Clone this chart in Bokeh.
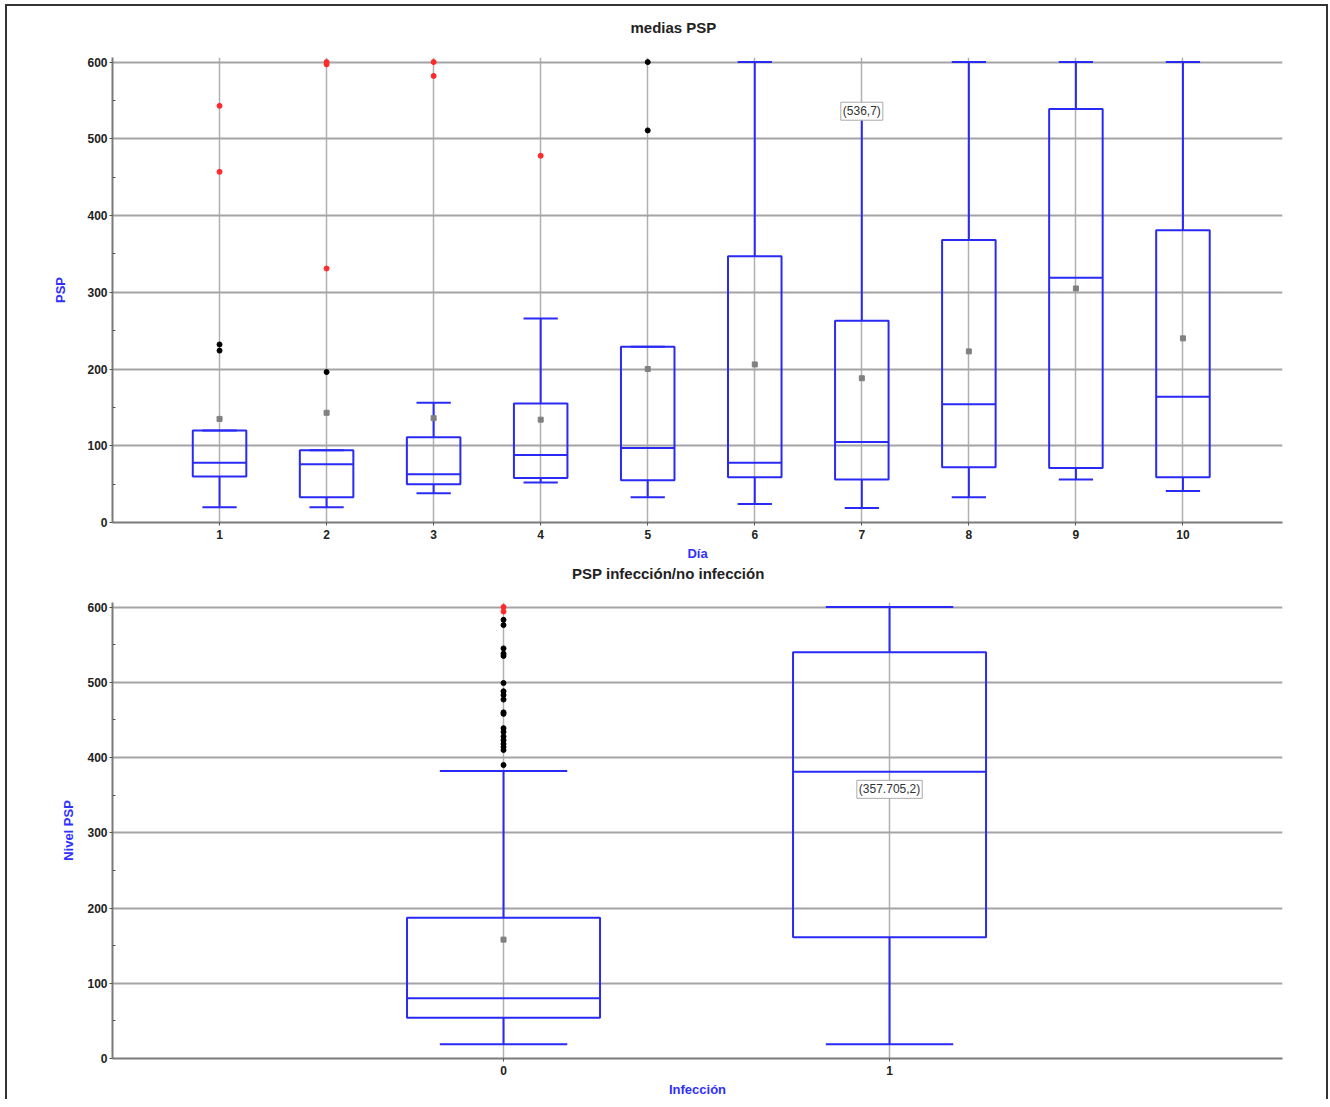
from bokeh.plotting import figure
from bokeh.models import Label, FixedTicker
from bokeh.layouts import column
from bokeh.embed import file_html
from bokeh.resources import INLINE

# ---------------- data: top chart (medias PSP por día) ----------------
days = [1, 2, 3, 4, 5, 6, 7, 8, 9, 10]
day_low = [20, 20, 38, 52, 33, 24, 19, 33, 56, 41]
day_q1 = [60, 33, 50, 58, 55, 59, 56, 72, 71, 59]
day_median = [78, 76, 63, 88, 97, 78, 105, 154, 319, 164]
day_q3 = [120, 94, 111, 155, 229, 347, 263, 368, 539, 381]
day_high = [120, 94, 156, 266, 229, 600, 536, 600, 600, 600]
day_mean = [135, 143, 136, 134, 200, 206, 188, 223, 305, 240]
out_black_day = [1, 1, 2, 5, 5]
out_black_val = [232, 224, 196, 511, 600]
out_red_day = [1, 1, 2, 2, 2, 3, 3, 4]
out_red_val = [543, 457, 600, 597, 331, 600, 582, 478]
top_hover_day = 7
top_hover_val = 536
top_hover_text = "(536,7)"

# ---------------- data: bottom chart (infección / no infección) ----------------
groups = [0, 1]
inf_low = [19, 19]
inf_q1 = [54, 161]
inf_median = [80, 381]
inf_q3 = [187, 540]
inf_high = [382, 600]
inf_mean = [158, 357.705]
inf_black_grp = [0] * 19
inf_black_val = [583, 576, 545, 538, 535, 499, 488, 483, 477, 460, 458,
                 439, 434, 428, 423, 418, 414, 410, 390]
inf_red_grp = [0, 0]
inf_red_val = [594, 600]
bot_hover_grp = 1
bot_hover_val = 357.705
bot_hover_text = "(357.705,2)"

y_ticks = [0, 100, 200, 300, 400, 500, 600]
y_minor = [50, 150, 250, 350, 450, 550]
Y_MAX = 600

BLUE = "#2a2af5"
FONT = "Liberation Sans"
BL, BR = 105, 44  # shared left/right borders (frames aligned in the column)


def style(p, xticks, xlabel, ylabel):
    p.outline_line_color = None
    p.background_fill_color = "white"
    p.border_fill_color = "white"
    for ax in (p.xaxis[0], p.yaxis[0]):
        ax.axis_line_color = "#7a7a7a"
        ax.axis_line_width = 2
        ax.major_tick_line_color = "#555555"
        ax.major_tick_out = 3
        ax.major_tick_in = 0
        ax.major_label_text_font = FONT
        ax.major_label_text_font_size = "12px"
        ax.major_label_text_font_style = "bold"
        ax.major_label_text_color = "#222222"
        ax.axis_label_text_font = FONT
        ax.axis_label_text_font_size = "13px"
        ax.axis_label_text_font_style = "bold"
        ax.axis_label_text_color = "#3030ff"
    p.xaxis.ticker = FixedTicker(ticks=xticks)
    p.xaxis.minor_tick_line_color = None
    p.xaxis.major_label_standoff = 4
    p.xaxis.axis_label = xlabel
    p.xaxis.axis_label_standoff = 4
    p.yaxis.ticker = FixedTicker(ticks=y_ticks, minor_ticks=y_minor)
    p.yaxis.minor_tick_line_color = "#555555"
    p.yaxis.minor_tick_in = 3
    p.yaxis.minor_tick_out = 0
    p.yaxis.major_label_standoff = 2
    p.yaxis.axis_label = ylabel
    p.xgrid.ticker = FixedTicker(ticks=xticks)
    p.xgrid.grid_line_color = "#b0b0b0"
    p.xgrid.grid_line_width = 1.5
    p.ygrid.ticker = FixedTicker(ticks=y_ticks)
    p.ygrid.grid_line_color = "#a4a4a4"
    p.ygrid.grid_line_width = 2


def boxes(p, xs, low, q1, med, q3, high, mean, box_w, cap_w):
    left = [x - box_w / 2 for x in xs]
    right = [x + box_w / 2 for x in xs]
    cl = [x - cap_w / 2 for x in xs]
    cr = [x + cap_w / 2 for x in xs]
    p.segment(xs, high, xs, q3, line_color=BLUE, line_width=2)
    p.segment(xs, low, xs, q1, line_color=BLUE, line_width=2)
    p.segment(cl, high, cr, high, line_color=BLUE, line_width=2)
    p.segment(cl, low, cr, low, line_color=BLUE, line_width=2)
    p.quad(left=left, right=right, bottom=q1, top=q3, fill_color=None,
           line_color=BLUE, line_width=2)
    p.segment(left, med, right, med, line_color=BLUE, line_width=2)
    p.scatter(xs, mean, marker="square", size=5, fill_color="#808080",
              line_color="#808080")


def hover_label(p, x, y, text):
    p.add_layout(Label(x=x, y=y, text=text,
                       text_align="center", text_baseline="middle",
                       text_font=FONT, text_font_size="12px", text_color="#333333",
                       background_fill_color="white", border_line_color="#aaaaaa",
                       padding=2))


def title_fig(x_range, height, x, y, text):
    t = figure(width=1319, height=height, x_range=x_range, y_range=(0, height),
               output_backend="svg", toolbar_location=None,
               x_axis_type=None, y_axis_type=None,
               min_border_left=BL, min_border_right=BR,
               min_border_top=0, min_border_bottom=0)
    t.outline_line_color = None
    t.xgrid.grid_line_color = None
    t.ygrid.grid_line_color = None
    t.add_layout(Label(x=x, y=y, text=text, text_align="center",
                       text_baseline="middle", text_font=FONT,
                       text_font_size="15px", text_font_style="bold",
                       text_color="#222222"))
    return t


# ---------------- top chart ----------------
t1 = title_fig((0, 10.93), 51, 5.24, 30, "medias PSP")

p1 = figure(width=1319, height=506, x_range=(0, 10.93), y_range=(0, 606),
            output_backend="svg", toolbar_location=None,
            min_border_left=BL, min_border_right=BR,
            min_border_top=0, min_border_bottom=40)
style(p1, days, "Día", "PSP")
p1.yaxis.axis_label_standoff = 16
boxes(p1, days, day_low, day_q1, day_median, day_q3, day_high, day_mean, 0.5, 0.32)
p1.scatter(out_black_day, out_black_val, size=5, color="black")
p1.scatter(out_red_day, out_red_val, size=5, color="#ff2a2a")
hover_label(p1, top_hover_day, top_hover_val, top_hover_text)

# ---------------- bottom chart ----------------
t2 = title_fig((-1.013, 2.018), 39, 0.427, 29, "PSP infección/no infección")

p2 = figure(width=1319, height=497, x_range=(-1.013, 2.018), y_range=(0, 606),
            output_backend="svg", toolbar_location=None,
            min_border_left=BL, min_border_right=BR,
            min_border_top=0, min_border_bottom=40)
style(p2, groups, "Infección", "Nivel PSP")
p2.yaxis.axis_label_standoff = 8
boxes(p2, groups, inf_low, inf_q1, inf_median, inf_q3, inf_high, inf_mean, 0.5, 0.33)
p2.scatter(inf_black_grp, inf_black_val, size=5, color="black")
p2.scatter(inf_red_grp, inf_red_val, size=5, color="#ff2a2a")
hover_label(p2, bot_hover_grp, bot_hover_val, bot_hover_text)

layout = column(t1, p1, t2, p2, spacing=0,
                styles={"border-top": "2px solid #333333",
                        "border-left": "2px solid #333333",
                        "border-right": "2px solid #333333",
                        "margin-left": "5px", "margin-top": "4px"})
open("out.html", "w").write(file_html(layout, INLINE))
